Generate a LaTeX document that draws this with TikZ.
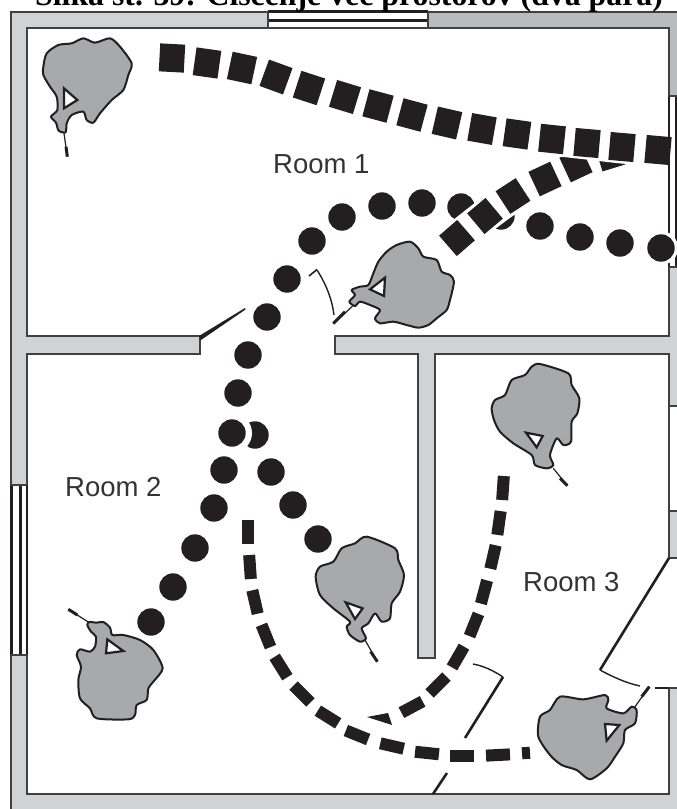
\documentclass[tikz,border=0pt]{standalone}
\usepackage{fontspec}
\setmainfont{Liberation Serif}
\newfontfamily\labelfont{Liberation Sans}
\definecolor{ink}{HTML}{231F20}
\definecolor{wallgrey}{HTML}{D0D2D3}
\definecolor{walldark}{HTML}{B9BBBE}
\definecolor{wallline}{HTML}{404040}
\definecolor{blobgrey}{HTML}{A7A9AC}
\definecolor{labelink}{HTML}{333333}
\tikzset{
  x=1pt,y=-1pt,
  wallfill/.style={fill=wallgrey,draw=none},
  wallstroke/.style={draw=wallline,line width=2pt},
  winstroke/.style={draw=ink,line width=2.2pt},
  thinwin/.style={draw=ink,line width=1.6pt},
  doorline/.style={draw=ink,line width=2.6pt},
  doorarc/.style={draw=ink,line width=1.4pt},
  blobshape/.style={fill=blobgrey,draw=ink,line width=2pt,line join=round},
  sighttri/.style={fill=white,draw=ink,line width=2.2pt,line join=miter},
  gunthin/.style={draw=ink,line width=1.2pt},
  gunthick/.style={draw=ink,line width=3pt},
  haloshape/.style={fill=white,draw=white,line width=6pt},
  haloband/.style={draw=white,line width=33pt},
  roomlabel/.style={inner sep=0pt,anchor=base west,text=labelink,font=\labelfont\fontsize{27.5}{30}\selectfont},
  titletext/.style={inner sep=0pt,anchor=base west,text=black,font=\bfseries\fontsize{31.8}{34}\selectfont}
}
\begin{document}
\begin{tikzpicture}
\useasboundingbox (0,0) rectangle (677,809);
\fill[white] (0,0) rectangle (677,809);
% --- walls
\fill[wallfill] (11,12) rectangle (677,809);
\fill[walldark] (428,12) rectangle (677,28);
\fill[walldark] (669,12) rectangle (677,96);
\draw[wallstroke] (11,809) -- (11,12) -- (677,12);
% room 1
\draw[wallstroke,fill=white] (27,28) rectangle (669,336);
% rooms 2 and 3
\draw[wallstroke,fill=white] (27,354) -- (418,354) -- (418,658) -- (435,658) -- (435,354) -- (669,354) -- (669,794) -- (27,794) -- cycle;
% door openings
\fill[white] (201,334) rectangle (334,356);
\draw[wallstroke] (200,336) -- (200,354);
\draw[wallstroke] (335,336) -- (335,354);
% gap at the lower right
\fill[white] (668,559) rectangle (677,687);
\draw[wallstroke] (669,540) -- (669,558) -- (677,558);
\draw[wallstroke] (669,688) -- (677,688);
% --- windows
\fill[white] (268,12) rectangle (428,28);
\draw[winstroke] (268,11.5) -- (428,11.5);
\draw[winstroke] (268,20.5) -- (428,20.5);
\draw[wallstroke] (268,27.5) -- (428,27.5);
\draw[wallstroke] (268,12) -- (268,28);
\draw[wallstroke] (428,12) -- (428,28);
\fill[white] (11,485) rectangle (27,655);
\draw[winstroke] (11.5,485) -- (11.5,655);
\draw[winstroke] (20.5,485) -- (20.5,655);
\draw[winstroke] (27,485) -- (27,655);
\draw[wallstroke] (11,485) -- (27,485);
\draw[wallstroke] (11,655) -- (27,655);
\fill[white] (668,96) rectangle (677,267);
\draw[thinwin] (669,96) -- (669,267);
\draw[thinwin] (676,96) -- (676,267);
\draw[wallstroke] (669,96) -- (677,96);
\draw[wallstroke] (669,267) -- (677,267);
\fill[white] (670,406) rectangle (677,511);
\draw[wallstroke] (669,406) -- (677,406);
\draw[wallstroke] (669,511) -- (677,511);
% --- doors
\fill[ink] (199,336) -- (245,308) -- (245.5,309.5) -- (201,340) -- cycle;
\draw[gunthick,line width=1.6pt] (309,276) -- (317,269.5);
\draw[doorarc] (317,270) .. controls (326,284) and (332,299) .. (334,315);
\draw[doorline] (669,558) -- (600,670);
\draw[doorarc] (600,670) .. controls (613,677) and (626,683) .. (640,686);
\draw[doorarc] (655,688) -- (669,688);
\draw[doorarc] (473,664) .. controls (484,666) and (494,671) .. (503,677);
\draw[doorline] (503,677) -- (465,738);
\draw[doorline] (447,773) -- (433,794);
% --- second round path (behind)
\foreach \cx/\cy in {255/435,271/472,293/505,318/539,501/216,461/207}
  \fill[ink] (\cx,\cy) circle (13.7);
% --- first round path
\fill[white] (232,433) circle (20);
\foreach \cx/\cy in {661/248,620/243,580/237,540/226,422/203,382/206,342/217,312/241,287/279,267/317,248/355,238/393,224/470,214/508,195/548,173/587,151/622}
  \fill[white] (\cx,\cy) circle (17);
\foreach \cx/\cy in {661/248,620/243,580/237,540/226,422/203,382/206,342/217,312/241,287/279,267/317,248/355,238/393,232/433,224/470,214/508,195/548,173/587,151/622}
  \fill[ink] (\cx,\cy) circle (13.7);
% --- square path, lower
\draw[haloband] plot[smooth,tension=.6] coordinates {(457,238)(485,216)(513,196)(545,179)(576,165)(610,155)};
\foreach \cx/\cy/\ang in {610/155/17,576/165/25,545/179/25,513/196/33,485/216/40,457/238/41}
  \fill[ink,shift={(\cx,\cy)},rotate=\ang] (-12,-13.5) rectangle (12,13.5);
% --- square path, upper
\draw[haloband] plot[smooth,tension=.6] coordinates {(172,58)(207,63)(242,68)(276,77)(309,88)(345,97)(378,106)(412,115)(447,123)(482,129)(517,134)(552,139)(587,143)(622,147)(658,150)};
\foreach \cx/\cy/\ang in {172/58/-3,207/63/-8,242/68/-12,276/77/-20,309/88/-18,345/97/-17,378/106/-15,412/115/-15,447/123/-13,482/129/-10,517/134/-8,552/139/-6,587/143/-5,622/147/-5,658/150/-5}
  \fill[ink,shift={(\cx,\cy)},rotate=\ang] (-12.5,-14) rectangle (12.5,14);
% --- dashed path, room 3
\foreach \cx/\cy/\ang in {503/488/86,499/523/82,493/557/77,484/592/75,474/625/68,458/657/60,438/685/45,412/707/28}
  \fill[ink,shift={(\cx,\cy)},rotate=\ang] (-12,-6) rectangle (12,6);
\fill[ink] (367,717) -- (388,713) -- (392,725) -- cycle;
% --- dashed path, room 2 to room 3
\foreach \cx/\cy/\ang in {248/532/-90,250/567/-86,255/602/-77,266/636/-68,281/667/-58,302/694/-45,328/717/-32,357/735/-22,392/746/-13,427/753/-6,462/756/0,498/755/3}
  \fill[ink,shift={(\cx,\cy)},rotate=\ang] (-12,-6) rectangle (12,6);
\fill[ink,shift={(526,753)},rotate=4] (-4,-6) rectangle (4,6);
% --- blobs
\begin{scope}[x=.33333pt,y=-.33333pt]
\draw[gunthin] (192,400) -- (202,470);
\draw[gunthick] (198,440) -- (202,470);
\draw[blobshape] plot[smooth cycle,tension=.45] coordinates {(130,200)(140,160)(175,135)(215,130)(250,115)(285,128)(330,115)(360,140)(395,190)(385,225)(370,270)(335,300)(300,340)(280,368)(260,360)(250,335)(215,345)(200,370)(197,397)(176,392)(168,368)(153,350)(172,330)(170,290)(150,260)(130,225)};
\draw[sighttri] (192,265) -- (232,300) -- (192,325) -- cycle;
\end{scope}
\begin{scope}[shift={(180,230)},x=.33333pt,y=-.33333pt]
\draw[gunthin] (518,228) -- (460,282);
\draw[gunthick] (495,245) -- (460,280);
\draw[blobshape] plot[smooth cycle,tension=.45] coordinates {(822,155)(810,210)(800,240)(770,265)(745,285)(715,293)(680,285)(640,275)(600,280)(585,265)(600,240)(570,225)(540,215)(525,228)(508,215)(525,195)(515,180)(540,170)(565,165)(580,130)(595,95)(620,65)(650,45)(690,35)(715,55)(730,80)(770,90)(785,125)(810,135)};
\draw[sighttri] (615,143) -- (570,178) -- (612,198) -- cycle;
\end{scope}
\begin{scope}[shift={(0,440)},x=.33333pt,y=-.33333pt]
\draw[gunthin] (268,548) -- (205,508);
\draw[gunthick] (205,508) -- (232,525);
\draw[blobshape] plot[smooth cycle,tension=.45] coordinates {(268,546)(290,548)(310,546)(330,563)(337,585)(370,585)(420,600)(460,630)(488,685)(460,725)(445,745)(440,780)(410,795)(405,825)(385,838)(290,835)(270,805)(240,775)(235,720)(243,680)(230,645)(240,628)(270,635)(285,620)(288,590)(273,575)(262,555)};
\draw[sighttri] (322,598) -- (370,633) -- (318,640) -- cycle;
\end{scope}
\begin{scope}[shift={(300,520)},x=.33333pt,y=-.33333pt]
\draw[gunthin] (195,360) -- (232,425);
\draw[gunthick] (212,395) -- (232,425);
\draw[blobshape] plot[smooth cycle,tension=.45] coordinates {(47,170)(60,140)(100,125)(125,85)(165,70)(200,50)(285,85)(295,120)(312,165)(300,215)(275,250)(270,295)(245,305)(225,280)(205,310)(185,325)(198,355)(180,365)(150,345)(140,320)(150,305)(100,265)(60,225)};
\draw[sighttri] (137,247) -- (188,265) -- (165,297) -- cycle;
\end{scope}
\begin{scope}[shift={(340,340)},x=.33333pt,y=-.33333pt]
\draw[gunthin] (640,385) -- (682,437);
\draw[gunthick] (660,415) -- (682,437);
\draw[blobshape] plot[smooth cycle,tension=.45] coordinates {(455,205)(465,180)(495,165)(515,120)(555,105)(575,80)(600,72)(685,100)(695,135)(718,175)(712,220)(695,245)(693,305)(670,315)(650,295)(630,345)(640,375)(620,385)(585,375)(575,345)(520,310)(480,275)(462,240)};
\draw[sighttri] (558,278) -- (608,288) -- (590,322) -- cycle;
\end{scope}
\begin{scope}[shift={(340,560)},x=.33333pt,y=-.33333pt]
\draw[gunthin] (885,440) -- (928,380);
\draw[gunthick] (905,410) -- (928,380);
\draw[blobshape] plot[smooth cycle,tension=.45] coordinates {(595,530)(600,470)(630,450)(660,410)(730,418)(795,405)(805,420)(800,445)(850,460)(875,440)(890,450)(885,490)(855,510)(850,550)(825,590)(800,625)(750,658)(710,630)(665,615)(630,585)};
\draw[sighttri] (795,492) -- (838,495) -- (800,542) -- cycle;
\end{scope}
% --- texts
\node[roomlabel] (room1) at (273,173) {Room 1};
\node[roomlabel] (room2) at (65,496) {Room 2};
\node[roomlabel] (room3) at (523,591) {Room 3};
\node[titletext] (title) at (35,5) {Slika št. 39: Čiščenje več prostorov (dva para)};
\end{tikzpicture}
\end{document}
